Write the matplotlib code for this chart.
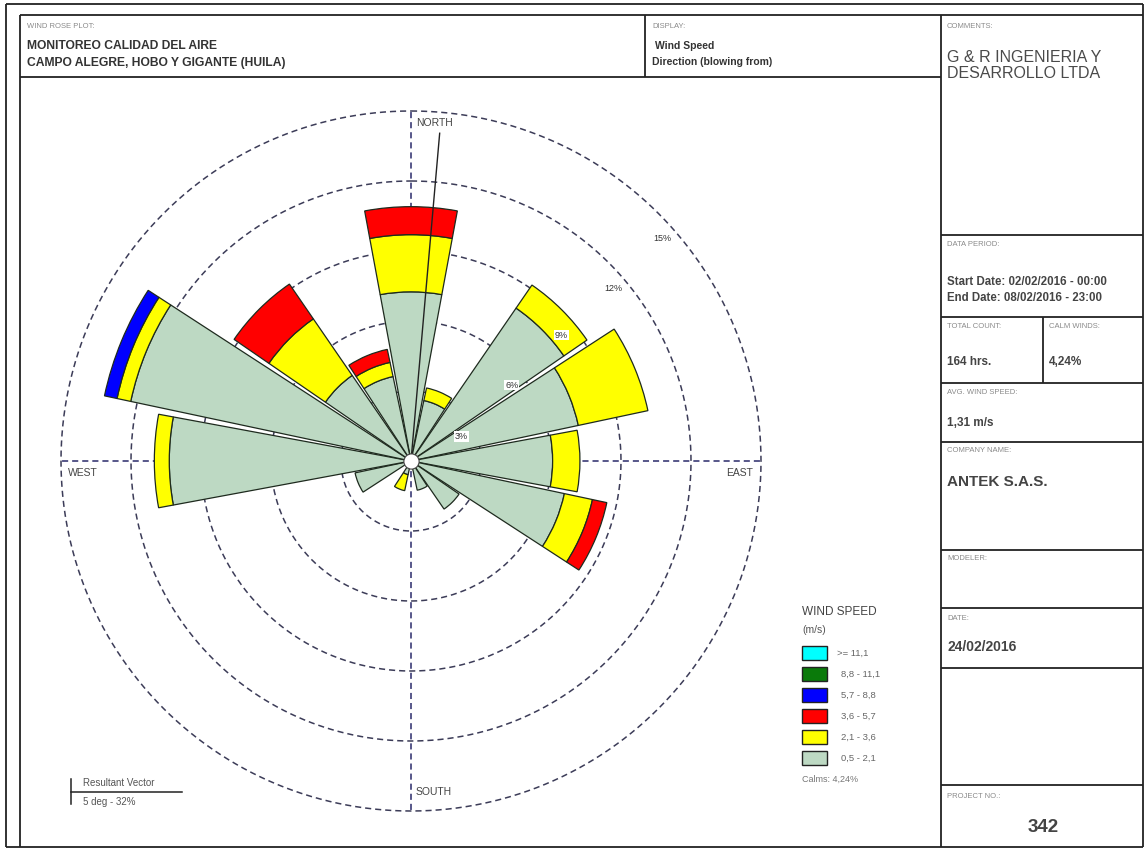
import numpy as np
import matplotlib
matplotlib.use('Agg')
import matplotlib.pyplot as plt
from matplotlib.patches import Rectangle

plt.rcParams['font.family'] = ['Liberation Sans', 'DejaVu Sans']

# ---------------- data ----------------
directions = ['N', 'NNE', 'NE', 'ENE', 'E', 'ESE', 'SE', 'SSE',
              'S', 'SSW', 'SW', 'WSW', 'W', 'WNW', 'NW', 'NNW']
bearings = [0, 22.5, 45, 67.5, 90, 112.5, 135, 157.5,
            180, 202.5, 225, 247.5, 270, 292.5, 315, 337.5]

# frequency (%) per speed class, per direction
freq_05_21 = [7.25, 2.65, 7.95, 7.33, 6.07, 6.72, 2.50, 1.28,
              0.00, 0.60, 0.00, 2.45, 10.36, 12.28, 4.45, 3.70]
freq_21_36 = [2.45, 0.55, 1.20, 3.05, 1.17, 1.23, 0.00, 0.00,
              0.00, 0.70, 0.00, 0.00, 0.64, 0.60, 2.94, 0.62]
freq_36_57 = [1.20, 0.00, 0.00, 0.00, 0.00, 0.63, 0.00, 0.00,
              0.00, 0.00, 0.00, 0.00, 0.00, 0.00, 1.81, 0.57]
freq_57_88 = [0.00, 0.00, 0.00, 0.00, 0.00, 0.00, 0.00, 0.00,
              0.00, 0.00, 0.00, 0.00, 0.00, 0.55, 0.00, 0.00]
freq_88_111 = [0.0] * 16
freq_111_up = [0.0] * 16

speed_labels = ['0,5 - 2,1', '2,1 - 3,6', '3,6 - 5,7', '5,7 - 8,8', '8,8 - 11,1', '>= 11,1']
speed_colors = ['#bdd9c3', '#ffff00', '#ff0000', '#0000ff', '#0a7a0a', '#00ffff']

ring_values = [3, 6, 9, 12, 15]
ring_labels = ['3%', '6%', '9%', '12%', '15%']

calms_pct = '4,24%'
resultant_dir_deg = 5
resultant_text = '5 deg - 32%'

# ---------------- figure ----------------
W, H = 1144, 848
fig = plt.figure(figsize=(W / 100, H / 100), dpi=100)
fig.patch.set_facecolor('white')

bg = fig.add_axes([0, 0, 1, 1])
bg.set_xlim(0, W)
bg.set_ylim(H, 0)
bg.axis('off')

FRAME = '#222222'
def hline(y, x0, x1, lw=1.3):
    bg.plot([x0, x1], [y, y], color=FRAME, lw=lw, solid_capstyle='butt')
def vline(x, y0, y1, lw=1.3):
    bg.plot([x, x], [y0, y1], color=FRAME, lw=lw, solid_capstyle='butt')

# outer border
hline(4, 6, 1143); hline(847, 6, 1143); vline(6, 4, 847); vline(1143, 4, 847)
# inner frame
hline(15, 20, 1143); vline(20, 15, 847)
hline(77, 20, 941)
vline(645, 15, 77)
vline(941, 15, 847)
for yy in [235, 317, 383, 442, 550, 608, 668, 785]:
    hline(yy, 941, 1143)
vline(1043, 317, 383)

GRAY_LBL = '#8a8a8a'
def small(x, y, s):
    bg.text(x, y, s, fontsize=5.5, color=GRAY_LBL, va='center', ha='left')

# header
small(27, 27, 'WIND ROSE PLOT:')
bg.text(27, 46, 'MONITOREO CALIDAD DEL AIRE', fontsize=8.7, fontweight='bold',
        color='#333333', va='center')
bg.text(27, 63, 'CAMPO ALEGRE, HOBO Y GIGANTE (HUILA)', fontsize=8.7, fontweight='bold',
        color='#333333', va='center')
small(652, 27, 'DISPLAY:')
bg.text(655, 46, 'Wind Speed', fontsize=7.5, fontweight='bold', color='#333333', va='center')
bg.text(652, 62, 'Direction (blowing from)', fontsize=7.5, fontweight='bold',
        color='#333333', va='center')

# right panel
small(947, 27, 'COMMENTS:')
bg.text(947, 57, 'G & R INGENIERIA Y', fontsize=11.5, color='#4a4a4a', va='center')
bg.text(947, 74, 'DESARROLLO LTDA', fontsize=11.5, color='#4a4a4a', va='center')

small(947, 245, 'DATA PERIOD:')
bg.text(947, 282, 'Start Date: 02/02/2016 - 00:00', fontsize=8.3, fontweight='bold',
        color='#444444', va='center')
bg.text(947, 298, 'End Date: 08/02/2016 - 23:00', fontsize=8.3, fontweight='bold',
        color='#444444', va='center')

small(947, 327, 'TOTAL COUNT:')
bg.text(947, 362, '164 hrs.', fontsize=8.5, fontweight='bold', color='#444444', va='center')
small(1049, 327, 'CALM WINDS:')
bg.text(1049, 362, calms_pct, fontsize=8.5, fontweight='bold', color='#444444', va='center')

small(947, 393, 'AVG. WIND SPEED:')
bg.text(947, 423, '1,31 m/s', fontsize=8.5, fontweight='bold', color='#444444', va='center')

small(947, 451, 'COMPANY NAME:')
bg.text(947, 482, 'ANTEK S.A.S.', fontsize=11, fontweight='bold', color='#444444', va='center')

small(947, 558, 'MODELER:')
small(947, 618, 'DATE:')
bg.text(947, 647, '24/02/2016', fontsize=10, fontweight='bold', color='#444444', va='center')

small(947, 797, 'PROJECT NO.:')
bg.text(1043, 827, '342', fontsize=13.5, fontweight='bold', color='#444444',
        va='center', ha='center')

# legend
bg.text(802, 612, 'WIND SPEED', fontsize=8.5, color='#444444', va='center')
bg.text(802, 630, '(m/s)', fontsize=7.5, color='#555555', va='center')
for i, (lbl, col) in enumerate(zip(speed_labels[::-1], speed_colors[::-1])):
    yc = 653 + i * 21
    bg.add_patch(Rectangle((802, yc - 7), 25, 14, facecolor=col, edgecolor='#222222', lw=1.0))
    bg.text(837 if lbl.startswith('>') else 841, yc, lbl, fontsize=6.8,
            color='#666666', va='center')
bg.text(802, 779, 'Calms: ' + calms_pct, fontsize=6.5, color='#777777', va='center')

# resultant vector key
bg.plot([71, 71], [779, 804], color='#222222', lw=1.1)
bg.plot([71, 182], [792, 792], color='#222222', lw=1.1)
bg.text(83, 783, 'Resultant Vector', fontsize=7, color='#555555', va='center')
bg.text(83, 802, resultant_text, fontsize=7, color='#555555', va='center')

# ---------------- wind rose ----------------
CX, CY, R = 411, 461, 350
ax = fig.add_axes([(CX - R) / W, (H - CY - R) / H, 2 * R / W, 2 * R / H], projection='polar')
ax.set_theta_zero_location('N')
ax.set_theta_direction(-1)
ax.set_ylim(0, max(ring_values))
ax.axis('off')

dash = (0, (4, 2.6))
tt = np.linspace(0, 2 * np.pi, 721)
for rv in ring_values:
    ax.plot(tt, np.full_like(tt, rv), ls=dash, color='#3c3c58', lw=1.1, zorder=1, clip_on=False)
for ang in [0, 90, 180, 270]:
    a = np.deg2rad(ang)
    ax.plot([a, a], [0, max(ring_values)], ls=dash, color='#2a2a6a', lw=1.1, zorder=1, clip_on=False)

theta = np.deg2rad(bearings)
series = [freq_05_21, freq_21_36, freq_36_57, freq_57_88, freq_88_111, freq_111_up]
bottom = np.zeros(len(bearings))
width = np.deg2rad(21)
for vals, col in zip(series, speed_colors):
    v = np.asarray(vals, dtype=float)
    m = v > 0
    if m.any():
        ax.bar(theta[m], v[m], width=width, bottom=bottom[m], color=col,
               edgecolor='#1e2a1e', linewidth=0.9, zorder=3)
    bottom += v

# resultant vector
ra = np.deg2rad(resultant_dir_deg)
ax.plot([ra, ra], [0, 14.1], color='#222222', lw=1.0, zorder=4)

# center circle
ax.scatter([0], [0], s=120, c='white', edgecolors='#444444', linewidths=0.8, zorder=6)

# ring labels
label_angles = [64, 53, 50, 49.5, 48.5]
for rv, lbl, la in zip(ring_values, ring_labels, label_angles):
    ax.text(np.deg2rad(la), rv - 0.6, lbl, fontsize=6.5, color='#333333', ha='center',
            va='center', zorder=7,
            bbox=dict(facecolor='white', edgecolor='none', pad=0.6))

# compass labels
rmax = max(ring_values)
ax.annotate('NORTH', xy=(0, rmax), xytext=(5, -12), textcoords='offset pixels',
            fontsize=7.5, color='#444444', ha='left', va='center', annotation_clip=False)
ax.annotate('EAST', xy=(np.pi / 2, rmax), xytext=(-8, -12), textcoords='offset pixels',
            fontsize=7.5, color='#444444', ha='right', va='center', annotation_clip=False)
ax.annotate('SOUTH', xy=(np.pi, rmax), xytext=(5, 19), textcoords='offset pixels',
            fontsize=7.5, color='#444444', ha='left', va='center', annotation_clip=False)
ax.annotate('WEST', xy=(3 * np.pi / 2, rmax), xytext=(7, -12), textcoords='offset pixels',
            fontsize=7.5, color='#444444', ha='left', va='center', annotation_clip=False)

fig.savefig('out.png', dpi=100, facecolor='white')
